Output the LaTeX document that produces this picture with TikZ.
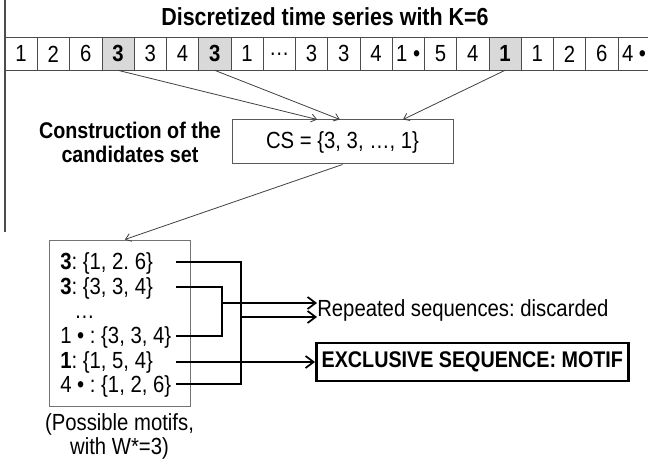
\documentclass[tikz,border=0pt]{standalone}
\usepackage{fontspec}
\setmainfont{Liberation Sans}[FakeStretch=0.87]
\usetikzlibrary{arrows.meta}
\frenchspacing

\begin{document}
\begin{tikzpicture}[
    x=0.75pt, y=-0.75pt,
    cell/.style={rectangle, draw=black!70, minimum width=24.2pt, minimum height=24.2pt, inner sep=0pt, font=\fontsize{17.5}{18}\selectfont},
    picked/.style={fill=black!15, font=\fontsize{17.5}{18}\selectfont\bfseries},
    txt/.style={font=\fontsize{17.5}{18}\selectfont, inner sep=0pt},
    head/.style={font=\fontsize{17}{18}\selectfont\bfseries, align=center, inner sep=0pt},
    box/.style={rectangle, draw=black!65, line width=0.75pt},
    pick/.style={-{Straight Barb[length=4pt,width=6pt]}, draw=black!75, line width=0.6pt},
    link/.style={line width=1.5pt, line join=miter},
    tip/.style={-{Straight Barb[length=6pt,width=9pt,line width=1.3pt]}}
]
\useasboundingbox (0,0) rectangle (648,463);

% Title and left frame
\node[head, font=\fontsize{18.5}{18}\selectfont\bfseries] (title) at (325, 17) {Discretized time series with K=6};
\draw[black!70, line width=1pt] (5,0) -- (5,232);

% Time series cells
\foreach \i/\v in {0/1, 1/2, 2/6, 4/3, 5/4, 7/1, 8/…, 9/3, 10/3, 11/4,
    12/1 •, 13/5, 14/4, 16/1, 17/2, 18/6, 19/4 •} {
    \node[cell] (c\i) at ({21.13+\i*32.26}, 53.9) {\v};
}
% Selected cells (gray)
\foreach \i/\v in {3/3, 6/3, 15/1} {
    \node[cell, picked] (c\i) at ({21.13+\i*32.26}, 53.9) {\v};
}

% Candidates set
\node[head] (constr) at (130, 142) {Construction of the\\candidates set};
\node[box, txt, minimum width=165.75pt, minimum height=33pt] (cs) at (342.5, 142) {CS = \{3, 3, …, 1\}};
\draw[pick] (c3.south) -- ([xshift=-19pt]cs.north);
\draw[pick] (c6.south) -- ([xshift=-2pt]cs.north);
\draw[pick] (c15.south) -- ([xshift=45.4pt]cs.north);

% Possible motifs box
\node[box, draw=black!55, minimum width=105.75pt, minimum height=124.5pt] (mot) at (119.5, 323) {};
\draw[pick] (cs.south) -- ([xshift=4pt]mot.north);
\node[txt, anchor=base west] (r1) at (60, 269) {\textbf{3}: \{1, 2. 6\}};
\node[txt, anchor=base west] (r2) at (60, 294) {\textbf{3}: \{3, 3, 4\}};
\node[txt, anchor=base west] (r3) at (74, 318) {…};
\node[txt, anchor=base west] (r4) at (60, 343) {1 • : \{3, 3, 4\}};
\node[txt, anchor=base west] (r5) at (60, 368) {\textbf{1}: \{1, 5, 4\}};
\node[txt, anchor=base west] (r6) at (60, 392) {4 • : \{1, 2, 6\}};
\node[txt, align=center] (cap) at (119.5, 436) {(Possible motifs,\\with W*=3)};

% Results
\node[txt, anchor=west] (rep) at (317, 310) {Repeated sequences: discarded};
\node[rectangle, draw=black, line width=2pt, inner sep=4pt, minimum height=28.5pt, anchor=west,
    font=\fontsize{17}{18}\selectfont\bfseries] (exc) at (315, 362) {EXCLUSIVE SEQUENCE: MOTIF};

% Grouping connectors
\coordinate (s1) at (176, 262);
\coordinate (s2) at (176, 287);
\coordinate (s4) at (176, 336);
\coordinate (s5) at (176, 362);
\coordinate (s6) at (176, 384);
\coordinate (jo) at (241, 317);
\coordinate (ji) at (222, 303);
\draw[link] (s1) -| (jo) |- (s6);
\draw[link] (s2) -| (ji) |- (s4);
\draw[link, tip] (ji) -- (ji -| rep.west);
\draw[link, tip] (jo) -- (jo -| rep.west);
\draw[link, tip] (s5) -- (s5 -| exc.west);

\end{tikzpicture}
\end{document}
